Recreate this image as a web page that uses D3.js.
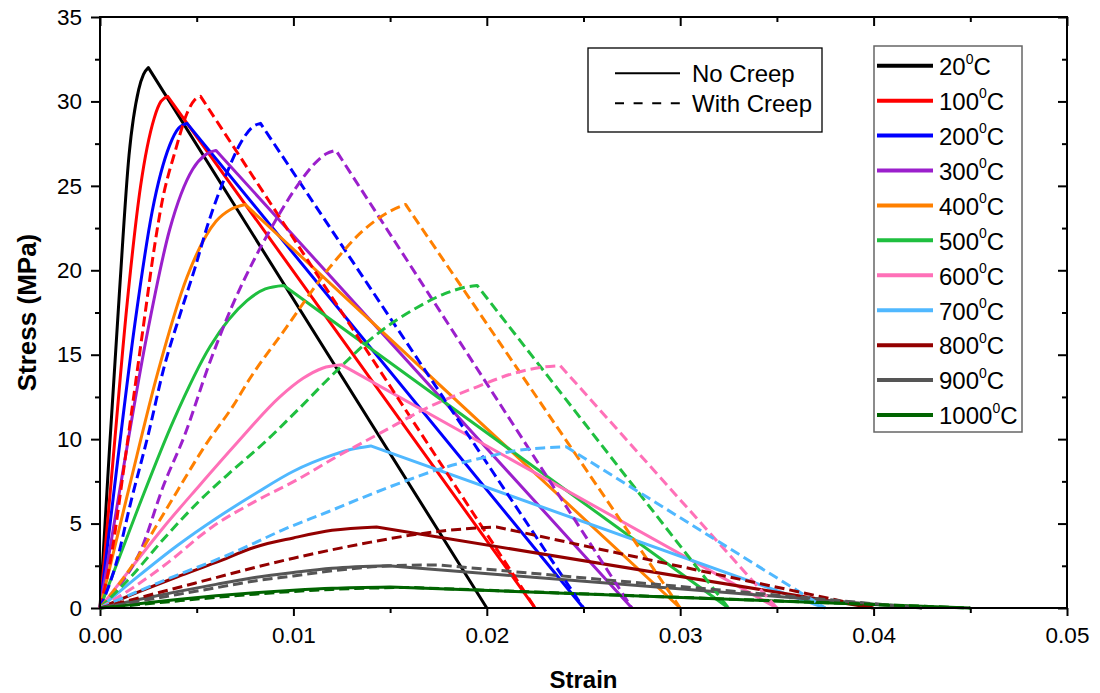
<!DOCTYPE html>
<html>
<head>
<meta charset="utf-8">
<script src="https://cdn.jsdelivr.net/npm/d3@7"></script>
<style>
  body { margin: 0; background: #fff; }
  svg { display: block; }
  text { font-family: Arial, "Liberation Sans", sans-serif; fill: #000; }
</style>
</head>
<body>
<svg id="chart" width="1100" height="693"></svg>
<script>
// Temperatures (deg C) of the concrete stress-strain curves
const temperatures = ["20", "100", "200", "300", "400", "500", "600", "700", "800", "900", "1000"];

// Tick values
const strainMajorTicks = [0, 0.01, 0.02, 0.03, 0.04, 0.05];
const strainMinorTicks = [0.005, 0.015, 0.025, 0.035, 0.045];
const stressMajorTicks = [0, 5, 10, 15, 20, 25, 30, 35];
const stressMinorTicks = [2.5, 7.5, 12.5, 17.5, 22.5, 27.5, 32.5];

// No creep: [strain, stress MPa]; last point is the end of the descending branch
const noCreep20   = [[0,0],[0.0005,9.6],[0.001,18.6],[0.0015,26.8],[0.002,30.7],[0.00225,31.6],[0.0025,32.0],[0.02,0]];
const noCreep100  = [[0,0],[0.0007,9.1],[0.0014,18.0],[0.0021,25.0],[0.0028,29.0],[0.00315,30.0],[0.0035,30.3],[0.0225,0]];
const noCreep200  = [[0,0],[0.0009,8.6],[0.0018,16.8],[0.0027,23.5],[0.0036,27.4],[0.00405,28.4],[0.0045,28.7],[0.025,0]];
const noCreep300  = [[0,0],[0.0012,8.2],[0.0024,16.0],[0.0036,22.4],[0.0048,26.0],[0.0054,26.8],[0.006,27.1],[0.0275,0]];
const noCreep400  = [[0,0],[0.0015,7.1],[0.003,14.0],[0.0045,19.6],[0.006,22.9],[0.00675,23.6],[0.0075,23.9],[0.03,0]];
const noCreep500  = [[0,0],[0.0019,5.7],[0.0038,11.1],[0.0057,15.5],[0.0076,18.2],[0.00855,18.9],[0.0095,19.1],[0.0325,0]];
const noCreep600  = [[0,0],[0.0017,2.5],[0.0033,4.8],[0.0051,7.2],[0.0071,9.8],[0.0093,12.5],[0.0105,13.6],[0.0115,14.2],[0.0125,14.4],[0.035,0]];
const noCreep700  = [[0,0],[0.002,1.9],[0.004,3.7],[0.006,5.3],[0.008,6.75],[0.010,8.1],[0.012,9.05],[0.013,9.4],[0.014,9.6],[0.0375,0]];
const noCreep800  = [[0,0],[0.002,0.95],[0.004,1.85],[0.006,2.7],[0.008,3.6],[0.010,4.15],[0.012,4.6],[0.0143,4.8],[0.04,0]];
const noCreep900  = [[0,0],[0.002,0.5],[0.004,0.97],[0.006,1.4],[0.008,1.8],[0.010,2.1],[0.012,2.35],[0.0149,2.5],[0.0425,0]];
const noCreep1000 = [[0,0],[0.002,0.25],[0.004,0.5],[0.006,0.72],[0.008,0.9],[0.010,1.05],[0.012,1.17],[0.015,1.25],[0.045,0]];

// With creep: [strain, stress MPa]
const withCreep100  = [[0,0],[0.0006,3.2],[0.0012,8.0],[0.0018,13.0],[0.0024,18.0],[0.0027,20.5],[0.0032,24.0],[0.0039,27.1],[0.0045,29.3],[0.0049,30.1],[0.0052,30.3],[0.0225,0]];
const withCreep200  = [[0,0],[0.0008,2.5],[0.0016,6.3],[0.0025,10.3],[0.0033,14.2],[0.0042,17.6],[0.0049,20.1],[0.0056,22.8],[0.0065,25.6],[0.0073,27.6],[0.0079,28.5],[0.0083,28.7],[0.025,0]];
const withCreep300  = [[0,0],[0.001,1.3],[0.0021,3.4],[0.0033,7.3],[0.0044,10.3],[0.0056,14.3],[0.0068,17.8],[0.008,20.7],[0.0089,22.6],[0.0102,25.0],[0.011,26.2],[0.0117,26.9],[0.0122,27.1],[0.0275,0]];
const withCreep400  = [[0,0],[0.0016,2.4],[0.0033,5.6],[0.0056,9.9],[0.0069,12.0],[0.0077,13.5],[0.0095,16.4],[0.0119,20.2],[0.0136,22.35],[0.015,23.5],[0.0158,23.9],[0.03,0]];
const withCreep500  = [[0,0],[0.0016,1.85],[0.0033,4.1],[0.0051,6.3],[0.0068,8.1],[0.0085,9.8],[0.0102,11.7],[0.0121,13.9],[0.0143,16.2],[0.0164,17.8],[0.0178,18.6],[0.0189,19.0],[0.0195,19.1],[0.0325,0]];
const withCreep600  = [[0,0],[0.0017,1.2],[0.0033,2.5],[0.0058,4.8],[0.008,6.3],[0.0102,7.6],[0.0123,9.0],[0.0144,10.3],[0.017,11.9],[0.0195,13.1],[0.0214,13.9],[0.0228,14.25],[0.0238,14.35],[0.035,0]];
const withCreep700  = [[0,0],[0.002,1.0],[0.004,1.95],[0.006,2.85],[0.0078,3.75],[0.0094,4.6],[0.0118,5.7],[0.0135,6.5],[0.0155,7.4],[0.0179,8.35],[0.02,8.95],[0.0214,9.3],[0.0229,9.48],[0.0241,9.55],[0.0375,0]];
const withCreep800  = [[0,0],[0.002,0.6],[0.004,1.2],[0.006,1.8],[0.008,2.4],[0.01,2.95],[0.012,3.45],[0.014,3.9],[0.016,4.3],[0.018,4.6],[0.0205,4.8],[0.04,0]];
const withCreep900  = [[0,0],[0.002,0.4],[0.004,0.8],[0.006,1.2],[0.008,1.6],[0.01,1.9],[0.012,2.2],[0.015,2.5],[0.0175,2.55],[0.0425,0]];
const withCreep1000 = [[0,0],[0.002,0.2],[0.004,0.42],[0.006,0.63],[0.008,0.82],[0.01,0.98],[0.012,1.1],[0.014,1.18],[0.016,1.22],[0.045,0]];

const noCreepSeries = [noCreep20, noCreep100, noCreep200, noCreep300, noCreep400, noCreep500,
                       noCreep600, noCreep700, noCreep800, noCreep900, noCreep1000];
const withCreepSeries = [null, withCreep100, withCreep200, withCreep300, withCreep400, withCreep500,
                         withCreep600, withCreep700, withCreep800, withCreep900, withCreep1000];

// One colour per temperature
const seriesColors = ["#000000", "#ff0000", "#0000ff", "#9b1fcc", "#ff8000", "#1fbf3f",
                      "#ff70b8", "#50b8ff", "#930000", "#555555", "#006400"];

const svg = d3.select("#chart");
const plot = { left: 100, right: 1067, top: 17, bottom: 608 };

const x = d3.scaleLinear().domain([0, 0.05]).range([plot.left, plot.right]);
const y = d3.scaleLinear().domain([0, 35]).range([plot.bottom, plot.top]);

const tickFont = "22.5px";

// Bottom axis: outward ticks with labels
const gxMinor = svg.append("g").attr("transform", `translate(0,${plot.bottom})`)
  .call(d3.axisBottom(x).tickValues(strainMinorTicks).tickSize(5).tickFormat(""));
const gx = svg.append("g").attr("transform", `translate(0,${plot.bottom})`)
  .call(d3.axisBottom(x).tickValues(strainMajorTicks).tickSize(8).tickPadding(11.2)
        .tickFormat(d3.format(".2f")));
// Top axis: inward ticks only
const gxTopMinor = svg.append("g").attr("transform", `translate(0,${plot.top})`)
  .call(d3.axisTop(x).tickValues(strainMinorTicks).tickSize(-5).tickFormat(""));
const gxTop = svg.append("g").attr("transform", `translate(0,${plot.top})`)
  .call(d3.axisTop(x).tickValues(strainMajorTicks).tickSize(-9).tickFormat(""));

// Left axis: outward ticks with labels
const gyMinor = svg.append("g").attr("transform", `translate(${plot.left},0)`)
  .call(d3.axisLeft(y).tickValues(stressMinorTicks).tickSize(5).tickFormat(""));
const gy = svg.append("g").attr("transform", `translate(${plot.left},0)`)
  .call(d3.axisLeft(y).tickValues(stressMajorTicks).tickSize(9).tickPadding(9)
        .tickFormat(d3.format("d")));
// Right axis: inward ticks only
const gyRightMinor = svg.append("g").attr("transform", `translate(${plot.right},0)`)
  .call(d3.axisRight(y).tickValues(stressMinorTicks).tickSize(-5).tickFormat(""));
const gyRight = svg.append("g").attr("transform", `translate(${plot.right},0)`)
  .call(d3.axisRight(y).tickValues(stressMajorTicks).tickSize(-9).tickFormat(""));

[gxMinor, gx, gxTopMinor, gxTop, gyMinor, gy, gyRightMinor, gyRight].forEach(g => {
  g.select(".domain").remove();
  g.selectAll(".tick line").attr("stroke", "#000").attr("stroke-width", 2);
  g.selectAll(".tick text").style("font-size", tickFont)
    .style("font-family", "Arial, 'Liberation Sans', sans-serif").attr("fill", "#000");
});

// Curves: smooth rising branch up to the peak, straight descending branch to the end point
function curvePath(points) {
  const rising = points.slice(0, points.length - 1);
  const end = points[points.length - 1];
  const d = d3.line().x(p => x(p[0])).y(p => y(p[1])).curve(d3.curveMonotoneX)(rising);
  return d + "L" + x(end[0]) + "," + y(end[1]);
}

const curves = svg.append("g").attr("fill", "none");

noCreepSeries.forEach((pts, i) => {
  curves.append("path")
    .attr("d", curvePath(pts))
    .attr("stroke", seriesColors[i])
    .attr("stroke-width", 3)
    .attr("stroke-linejoin", "round");
});

withCreepSeries.forEach((pts, i) => {
  if (!pts) return;
  curves.append("path")
    .attr("d", curvePath(pts))
    .attr("stroke", seriesColors[i])
    .attr("stroke-width", 3)
    .attr("stroke-dasharray", "10,5")
    .attr("stroke-linejoin", "round");
});

// Plot frame
svg.append("rect")
  .attr("x", plot.left).attr("y", plot.top)
  .attr("width", plot.right - plot.left).attr("height", plot.bottom - plot.top)
  .attr("fill", "none").attr("stroke", "#000").attr("stroke-width", 2);

// Axis titles
svg.append("text")
  .attr("x", (plot.left + plot.right) / 2).attr("y", 688)
  .attr("text-anchor", "middle")
  .style("font-size", "24px").style("font-weight", "bold")
  .text("Strain");

svg.append("text")
  .attr("transform", `translate(36,${(plot.top + plot.bottom) / 2}) rotate(-90)`)
  .attr("text-anchor", "middle")
  .style("font-size", "26px").style("font-weight", "bold")
  .text("Stress (MPa)");

// Line-style legend
const styleLegend = svg.append("g");
styleLegend.append("rect")
  .attr("x", 588).attr("y", 48).attr("width", 234).attr("height", 84)
  .attr("fill", "#fff").attr("stroke", "#000").attr("stroke-width", 1.3);
const styleItems = [{ label: "No Creep", dash: null }, { label: "With Creep", dash: "9,9.6" }];
styleItems.forEach((it, i) => {
  const yy = 73.3 + i * 30;
  styleLegend.append("line")
    .attr("x1", 615).attr("x2", 680).attr("y1", yy).attr("y2", yy)
    .attr("stroke", "#000").attr("stroke-width", 2)
    .attr("stroke-dasharray", it.dash);
  styleLegend.append("text")
    .attr("x", 692).attr("y", yy + 8.6)
    .style("font-size", "24px")
    .text(it.label);
});

// Temperature legend
const tempLegend = svg.append("g");
tempLegend.append("rect")
  .attr("x", 874).attr("y", 46).attr("width", 148).attr("height", 386)
  .attr("fill", "#fff").attr("stroke", "#666").attr("stroke-width", 1.5);
temperatures.forEach((t, i) => {
  const yy = 65.7 + i * 34.93;
  tempLegend.append("line")
    .attr("x1", 877).attr("x2", 933).attr("y1", yy).attr("y2", yy)
    .attr("stroke", seriesColors[i]).attr("stroke-width", 4);
  const txt = tempLegend.append("text")
    .attr("x", 939).attr("y", yy + 9.3)
    .style("font-size", "24px");
  txt.append("tspan").text(t);
  txt.append("tspan").attr("dy", -11.5).style("font-size", "14px").text("0");
  txt.append("tspan").attr("dy", 11.5).text("C");
});
</script>
</body>
</html>
